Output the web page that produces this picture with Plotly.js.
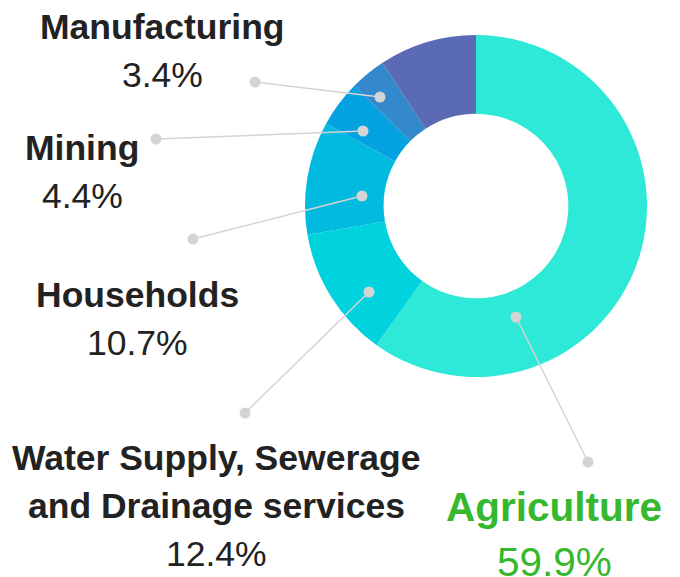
<!DOCTYPE html>
<html>
<head>
<meta charset="utf-8">
<script src="https://cdn.plot.ly/plotly-3.0.1.min.js"></script>
<style>html,body{margin:0;padding:0;background:#fff;}#chart{width:680px;height:577px;}</style>
</head>
<body>
<div id="chart"></div>
<script>
// ---- data ----
const categories = ["Agriculture", "Water Supply, Sewerage<br>and Drainage services", "Households", "Mining", "Manufacturing", "Other"];
const shares = [59.9, 12.4, 10.7, 4.4, 3.4, 9.2];
const showLabel = [true, true, true, true, true, false];

// ---- styling ----
const sliceColors = ["#2ee8d8", "#00d2de", "#00bae0", "#04a2e0", "#3488cc", "#5a6ab4"];
const W = 680, H = 577;
const px = x => x / W;
const py = y => 1 - y / H;

// label layout (pixel positions): center x, first line center y, font size, color
const labelPos = [
  {x: 554, y: 507, size: 40.5, gap: 55, color: "#35b82d", dots: [[588, 462], [516, 317]]},
  {x: 216, y: 458, size: 35.5, gap: 48, color: "#222222", dots: [[245, 413], [369, 292]]},
  {x: 137, y: 295, size: 35.5, gap: 48, color: "#222222", dots: [[193, 239], [362, 196]]},
  {x: 82,  y: 148, size: 35.5, gap: 48, color: "#222222", dots: [[156, 139], [363, 131]]},
  {x: 162, y: 27,  size: 35.5, gap: 48, color: "#222222", dots: [[255, 82], [380, 97]]},
  null
];

const cx = 476, cy = 206, R = 171;

const trace = {
  type: "pie",
  labels: categories,
  values: shares,
  sort: false,
  direction: "clockwise",
  rotation: 0,
  hole: 0.54,
  textinfo: "none",
  hoverinfo: "label+percent",
  marker: {colors: sliceColors, line: {width: 0}},
  domain: {x: [px(cx - R), px(cx + R)], y: [py(cy + R), py(cy - R)]},
  showlegend: false
};

const annotations = [];
const shapes = [];
categories.forEach((c, i) => {
  if (!showLabel[i]) return;
  const L = labelPos[i];
  const lines = c.split("<br>");
  lines.forEach((t, k) => {
    annotations.push({
      xref: "paper", yref: "paper", x: px(L.x), y: py(L.y + k * L.gap),
      xanchor: "center", yanchor: "middle", showarrow: false,
      text: "<b>" + t + "</b>",
      font: {family: "Liberation Sans, Arial, sans-serif", size: L.size, color: L.color}
    });
  });
  annotations.push({
    xref: "paper", yref: "paper", x: px(L.x), y: py(L.y + lines.length * L.gap),
    xanchor: "center", yanchor: "middle", showarrow: false,
    text: shares[i].toFixed(1) + "%",
    font: {family: "Liberation Sans, Arial, sans-serif", size: L.size, color: L.color}
  });
  const [a, b] = L.dots;
  shapes.push({type: "line", xref: "paper", yref: "paper",
    x0: px(a[0]), y0: py(a[1]), x1: px(b[0]), y1: py(b[1]),
    line: {color: "#d4d4d4", width: 1.5}});
  [a, b].forEach(d => {
    shapes.push({type: "circle", xref: "paper", yref: "paper",
      x0: px(d[0] - 5.5), x1: px(d[0] + 5.5), y0: py(d[1] + 5.5), y1: py(d[1] - 5.5),
      fillcolor: "#d4d4d4", line: {width: 0}});
  });
});

const layout = {
  width: W, height: H,
  margin: {l: 0, r: 0, t: 0, b: 0},
  paper_bgcolor: "#ffffff",
  plot_bgcolor: "#ffffff",
  showlegend: false,
  annotations: annotations,
  shapes: shapes
};

Plotly.newPlot("chart", [trace], layout, {displayModeBar: false, staticPlot: true});
</script>
</body>
</html>
